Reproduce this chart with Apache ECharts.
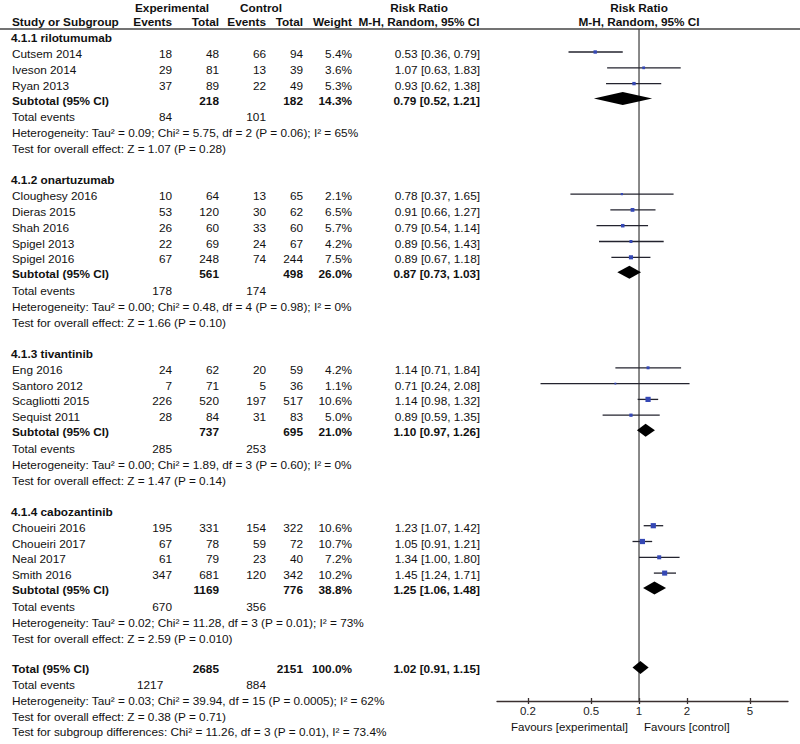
<!DOCTYPE html>
<html><head><meta charset="utf-8">
<script src="https://cdn.jsdelivr.net/npm/echarts@6/dist/echarts.min.js"></script>
<style>html,body{margin:0;padding:0;background:#fff}#c{width:800px;height:744px}</style>
</head><body><div id="c"></div>
<script>
const groupNames = ['4.1.1 rilotumumab', '4.1.2 onartuzumab', '4.1.3 tivantinib', '4.1.4 cabozantinib'];
const studyNames = ['Cutsem 2014', 'Iveson 2014', 'Ryan 2013',
  'Cloughesy 2016', 'Dieras 2015', 'Shah 2016', 'Spigel 2013', 'Spigel 2016',
  'Eng 2016', 'Santoro 2012', 'Scagliotti 2015', 'Sequist 2011',
  'Choueiri 2016', 'Choueiri 2017', 'Neal 2017', 'Smith 2016'];
const studyGroup = [0,0,0, 1,1,1,1,1, 2,2,2,2, 3,3,3,3];
const expEvents  = [18,29,37, 10,53,26,22,67, 24,7,226,28, 195,67,61,347];
const expTotal   = [48,81,89, 64,120,60,69,248, 62,71,520,84, 331,78,79,681];
const ctrlEvents = [66,13,22, 13,30,33,24,74, 20,5,197,31, 154,59,23,120];
const ctrlTotal  = [94,39,49, 65,62,60,67,244, 59,36,517,83, 322,72,40,342];
const weights    = [5.4,3.6,5.3, 2.1,6.5,5.7,4.2,7.5, 4.2,1.1,10.6,5.0, 10.6,10.7,7.2,10.2];
const rr         = [0.53,1.07,0.93, 0.78,0.91,0.79,0.89,0.89, 1.14,0.71,1.14,0.89, 1.23,1.05,1.34,1.45];
const rrLow      = [0.36,0.63,0.62, 0.37,0.66,0.54,0.56,0.67, 0.71,0.24,0.98,0.59, 1.07,0.91,1.00,1.24];
const rrHigh     = [0.79,1.83,1.38, 1.65,1.27,1.14,1.43,1.18, 1.84,2.08,1.32,1.35, 1.42,1.21,1.80,1.71];

const subExpTotal   = [218, 561, 737, 1169];
const subCtrlTotal  = [182, 498, 695, 776];
const subWeight     = [14.3, 26.0, 21.0, 38.8];
const subRR         = [0.79, 0.87, 1.10, 1.25];
const subLow        = [0.52, 0.73, 0.97, 1.06];
const subHigh       = [1.21, 1.03, 1.26, 1.48];
const subExpEvents  = [84, 178, 285, 670];
const subCtrlEvents = [101, 174, 253, 356];
const subHet = [
  'Heterogeneity: Tau² = 0.09; Chi² = 5.75, df = 2 (P = 0.06); I² = 65%',
  'Heterogeneity: Tau² = 0.00; Chi² = 0.48, df = 4 (P = 0.98); I² = 0%',
  'Heterogeneity: Tau² = 0.00; Chi² = 1.89, df = 3 (P = 0.60); I² = 0%',
  'Heterogeneity: Tau² = 0.02; Chi² = 11.28, df = 3 (P = 0.01); I² = 73%'];
const subTest = [
  'Test for overall effect: Z = 1.07 (P = 0.28)',
  'Test for overall effect: Z = 1.66 (P = 0.10)',
  'Test for overall effect: Z = 1.47 (P = 0.14)',
  'Test for overall effect: Z = 2.59 (P = 0.010)'];

const totalExpTotal = 2685, totalCtrlTotal = 2151, totalWeight = 100.0;
const totalRR = 1.02, totalLow = 0.91, totalHigh = 1.15;
const totalExpEvents = 1217, totalCtrlEvents = 884;
const totalNotes = [
  'Heterogeneity: Tau² = 0.03; Chi² = 39.94, df = 15 (P = 0.0005); I² = 62%',
  'Test for overall effect: Z = 0.38 (P = 0.71)',
  'Test for subgroup differences: Chi² = 11.26, df = 3 (P = 0.01), I² = 73.4%'];
const axisTicks = [0.2, 0.5, 1, 2, 5];

// ---- layout ----
const FONT = '"Liberation Sans", Arial, sans-serif';
const FS = 11.8;
const COL = {name: 12, expEv: 172, expTot: 219, ctrlEv: 266, ctrlTot: 303, weight: 352, rr: 480};
const TXT_OFF = 2;
const graphics = [];
function txt(x, y, s, align, bold, size) {
  graphics.push({type: 'text', x: x, y: y, silent: true,
    style: {text: String(s), fill: '#111', font: (bold ? 'bold ' : '') + (size || FS) + 'px ' + FONT,
      textAlign: align || 'left', textVerticalAlign: 'middle', verticalAlign: 'middle'}});
}
const fmtRR = (a, l, h) => a.toFixed(2) + ' [' + l.toFixed(2) + ', ' + h.toFixed(2) + ']';

// headers
txt(172, 8, 'Experimental', 'center', true);
txt(261, 8, 'Control', 'center', true);
txt(419, 8, 'Risk Ratio', 'center', true);
txt(639, 8, 'Risk Ratio', 'center', true);
txt(COL.name, 22, 'Study or Subgroup', 'left', true);
txt(COL.expEv, 22, 'Events', 'right', true);
txt(COL.expTot, 22, 'Total', 'right', true);
txt(COL.ctrlEv, 22, 'Events', 'right', true);
txt(COL.ctrlTot, 22, 'Total', 'right', true);
txt(COL.weight, 22, 'Weight', 'right', true);
txt(419, 22, 'M-H, Random, 95% CI', 'center', true);
txt(639, 22, 'M-H, Random, 95% CI', 'center', true);
graphics.push({type: 'line', silent: true, shape: {x1: 0, y1: 29, x2: 800, y2: 29}, style: {stroke: '#444', lineWidth: 1.5}});

const studyPts = [];
const diamondPts = [];
let cur = 36;
for (let g = 0; g < groupNames.length; g++) {
  txt(11, cur + TXT_OFF, groupNames[g], 'left', true);
  let y = cur + 16;
  let first = true;
  for (let i = 0; i < studyNames.length; i++) {
    if (studyGroup[i] !== g) continue;
    if (!first) y += 15.8;
    first = false;
    const ty = y + TXT_OFF;
    txt(COL.name, ty, studyNames[i]);
    txt(COL.expEv, ty, expEvents[i], 'right');
    txt(COL.expTot, ty, expTotal[i], 'right');
    txt(COL.ctrlEv, ty, ctrlEvents[i], 'right');
    txt(COL.ctrlTot, ty, ctrlTotal[i], 'right');
    txt(COL.weight, ty, weights[i].toFixed(1) + '%', 'right');
    txt(COL.rr, ty, fmtRR(rr[i], rrLow[i], rrHigh[i]), 'right');
    studyPts.push([Math.log(rr[i]), Math.log(rrLow[i]), Math.log(rrHigh[i]), y, weights[i]]);
  }
  y += 15;
  let ty = y + TXT_OFF;
  txt(COL.name, ty, 'Subtotal (95% CI)', 'left', true);
  txt(COL.expTot, ty, subExpTotal[g], 'right', true);
  txt(COL.ctrlTot, ty, subCtrlTotal[g], 'right', true);
  txt(COL.weight, ty, subWeight[g].toFixed(1) + '%', 'right', true);
  txt(COL.rr, ty, fmtRR(subRR[g], subLow[g], subHigh[g]), 'right', true);
  diamondPts.push([Math.log(subRR[g]), Math.log(subLow[g]), Math.log(subHigh[g]), y]);
  y += 16.5;
  txt(COL.name, y + TXT_OFF, 'Total events');
  txt(COL.expEv, y + TXT_OFF, subExpEvents[g], 'right');
  txt(COL.ctrlEv, y + TXT_OFF, subCtrlEvents[g], 'right');
  y += 16;
  txt(COL.name, y + TXT_OFF, subHet[g]);
  y += 16;
  txt(COL.name, y + TXT_OFF, subTest[g]);
  cur = y + 31;
}
// overall
{
  let y = cur;
  const ty = y + TXT_OFF - 1;
  txt(COL.name, ty, 'Total (95% CI)', 'left', true);
  txt(COL.expTot, ty, totalExpTotal, 'right', true);
  txt(COL.ctrlTot, ty, totalCtrlTotal, 'right', true);
  txt(COL.weight, ty, totalWeight.toFixed(1) + '%', 'right', true);
  txt(COL.rr, ty, fmtRR(totalRR, totalLow, totalHigh), 'right', true);
  diamondPts.push([Math.log(totalRR), Math.log(totalLow), Math.log(totalHigh), y]);
  y += 16.3;
  txt(COL.name, y + TXT_OFF - 1, 'Total events');
  txt(137, y + TXT_OFF - 1, totalExpEvents, 'left');
  txt(COL.ctrlEv, y + TXT_OFF - 1, totalCtrlEvents, 'right');
  for (let k = 0; k < totalNotes.length; k++) {
    y += 15.8;
    txt(COL.name, y + TXT_OFF - 1, totalNotes[k]);
  }
}
txt(628, 727, 'Favours [experimental]', 'right', false, 11.5);
txt(644, 727, 'Favours [control]', 'left', false, 11.5);

const AXIS_Y = 701;
const xMin = -2.058, xMax = 2.159;
const tickVals = axisTicks.map(v => Math.log(v));

const chart = echarts.init(document.getElementById('c'), null, {renderer: 'svg'});
chart.setOption({
  animation: false,
  backgroundColor: '#fff',
  grid: {left: 497, right: 12, top: 0, bottom: 744 - AXIS_Y},
  xAxis: [{
    type: 'value', min: xMin, max: xMax, position: 'bottom',
    axisLine: {show: true, onZero: false, lineStyle: {color: '#3a3030', width: 1.3}},
    axisTick: {show: true, length: 3, customValues: tickVals, lineStyle: {color: '#3a3030', width: 1.3}},
    axisLabel: {show: true, customValues: tickVals, margin: 4, color: '#222', fontSize: 11.5, fontFamily: FONT,
      formatter: v => String(Math.round(Math.exp(v) * 10) / 10)},
    splitLine: {show: false}
  }, {
    type: 'value', min: xMin, max: xMax, position: 'bottom', offset: 0,
    axisLine: {show: false, onZero: false},
    axisTick: {show: true, inside: true, length: 3, customValues: tickVals, lineStyle: {color: '#3a3030', width: 1.3}},
    axisLabel: {show: false}, splitLine: {show: false}
  }],
  yAxis: {type: 'value', min: 0, max: AXIS_Y, inverse: true, show: false},
  graphic: graphics,
  series: [
    {
      type: 'custom', xAxisIndex: 0, silent: true, clip: false,
      data: [[0, 29, AXIS_Y]],
      renderItem: (params, api) => {
        const a = api.coord([api.value(0), api.value(1)]);
        const b = api.coord([api.value(0), api.value(2)]);
        return {type: 'line', shape: {x1: a[0], y1: a[1], x2: b[0], y2: b[1]}, style: {stroke: '#3a3a3a', lineWidth: 1.2}};
      }
    },
    {
      type: 'custom', xAxisIndex: 0, silent: true,
      data: studyPts,
      renderItem: (params, api) => {
        const y = api.value(3);
        const p = api.coord([api.value(0), y]);
        const l = api.coord([api.value(1), y]);
        const h = api.coord([api.value(2), y]);
        const s = 1.5 + api.value(4) * 0.35;
        return {type: 'group', children: [
          {type: 'line', shape: {x1: l[0], y1: l[1], x2: h[0], y2: h[1]}, style: {stroke: '#23232e', lineWidth: 1.3}},
          {type: 'rect', shape: {x: p[0] - s / 2, y: p[1] - s / 2, width: s, height: s}, style: {fill: '#3548b5'}}
        ]};
      }
    },
    {
      type: 'custom', xAxisIndex: 0, silent: true,
      data: diamondPts,
      renderItem: (params, api) => {
        const y = api.value(3);
        const p = api.coord([api.value(0), y]);
        const l = api.coord([api.value(1), y]);
        const h = api.coord([api.value(2), y]);
        const hh = 6.5;
        return {type: 'polygon', shape: {points: [[l[0], l[1]], [p[0], p[1] - hh], [h[0], h[1]], [p[0], p[1] + hh]]}, style: {fill: '#000'}};
      }
    }
  ]
});
</script>
</body></html>
